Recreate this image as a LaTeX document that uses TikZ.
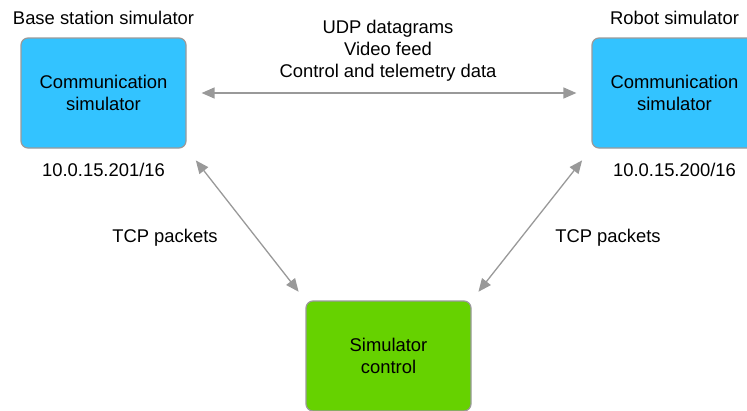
\documentclass[tikz,border=0pt]{standalone}
\usepackage{fontspec}
\setmainfont{Liberation Sans}
\usetikzlibrary{arrows.meta}
\definecolor{skyb}{HTML}{33C3FF}
\definecolor{grn}{HTML}{66D200}
\definecolor{edge}{HTML}{9A9A9A}
\definecolor{arr}{HTML}{999999}
\tikzset{
  box/.style={draw=edge, line width=1.2pt, rounded corners=7pt, minimum width=165pt, minimum height=110pt, align=center, inner sep=0pt, font=\fontsize{18.4}{22}\selectfont},
  lbl/.style={align=center, inner sep=0pt, font=\fontsize{18.4}{22}\selectfont},
  link/.style={draw=arr, line width=1.3pt, {Triangle[length=13pt,width=11pt]}-{Triangle[length=13pt,width=11pt]}},
}
\begin{document}
\begin{tikzpicture}[x=1pt,y=-1pt]
\useasboundingbox (0,0) rectangle (747,410);
\node[box, fill=skyb] (L) at (103.5,93) {Communication\\simulator};
\node[box, fill=skyb] (R) at (674.5,93) {Communication\\simulator};
\node[box, fill=grn] (G) at (388.5,356) {Simulator\\control};
\node[lbl] (lt) at (103.5,18) {Base station simulator};
\node[lbl] (rt) at (674.5,18) {Robot simulator};
\node[lbl] (lip) at (103.5,170) {10.0.15.201/16};
\node[lbl] (rip) at (674.5,170) {10.0.15.200/16};
\node[lbl] (udp) at (388,51) {UDP datagrams\\Video feed\\Control and telemetry data};
\node[lbl] (tl) at (165,238) {TCP packets};
\node[lbl] (tr) at (608,238) {TCP packets};
\draw[link, shorten <=15pt, shorten >=15pt] (L.east) -- (R.west);
\draw[link, shorten <=15pt, shorten >=11pt] (L.south east) -- (G.north west);
\draw[link, shorten <=15pt, shorten >=11pt] (R.south west) -- (G.north east);
\end{tikzpicture}
\end{document}
